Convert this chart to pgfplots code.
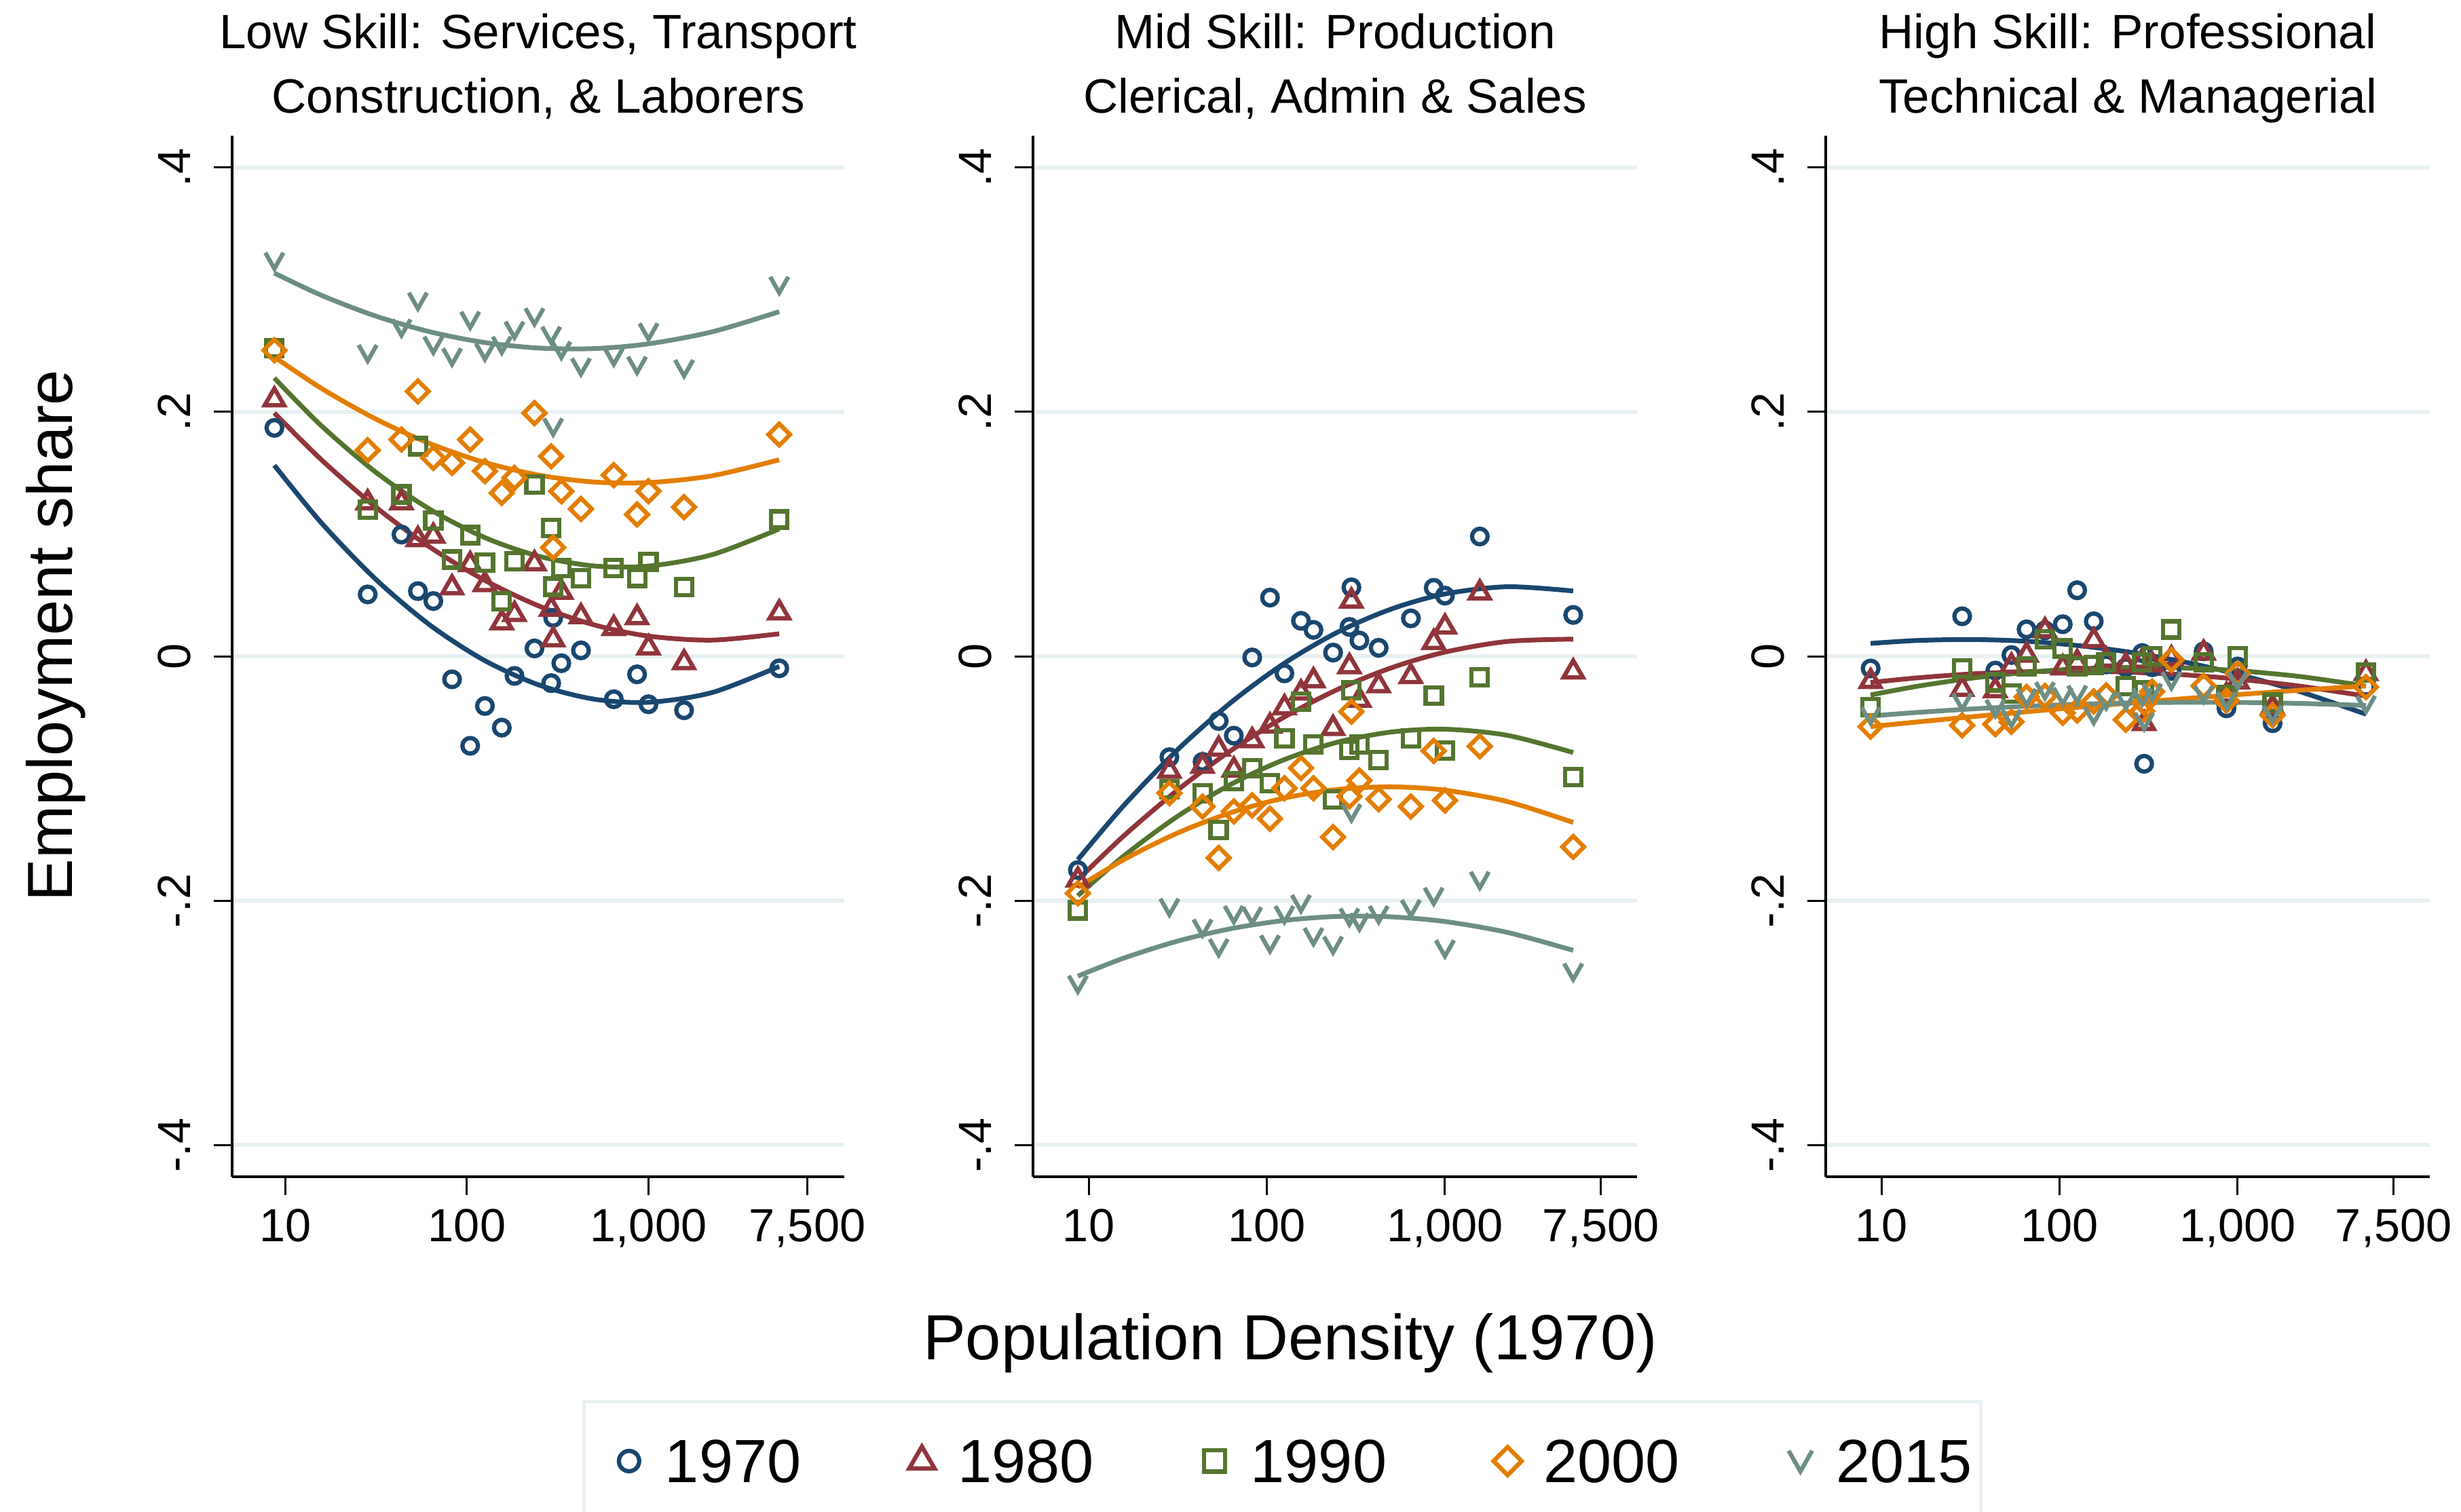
\documentclass[border=0pt]{standalone}
\usepackage{pgfplots}
\pgfplotsset{compat=1.18}
\usepackage{pgfplotstable}
\usepackage{fontspec}
\setmainfont{Liberation Sans}

\definecolor{cA}{RGB}{26,71,111}
\definecolor{cB}{RGB}{144,53,59}
\definecolor{cC}{RGB}{85,117,47}
\definecolor{cD}{RGB}{227,126,0}
\definecolor{cE}{RGB}{110,142,132}
\definecolor{gridc}{RGB}{232,240,242}

\pgfdeclareplotmark{vee}{%
  \pgfpathmoveto{\pgfqpoint{-1.13\pgfplotmarksize}{\pgfplotmarksize}}%
  \pgfpathlineto{\pgfqpoint{0pt}{-\pgfplotmarksize}}%
  \pgfpathlineto{\pgfqpoint{1.13\pgfplotmarksize}{\pgfplotmarksize}}%
  \pgfusepathqstroke}

% scatter data: x = population density (1970); c=1970 t=1980 s=1990 d=2000 v=2015
\pgfplotstableread{
x c t s d v
8.7 0.1869 0.210 0.2523 0.2504 0.3237
28.4 0.0506 0.1257 0.1201 0.1686 0.2482
43.6 0.0996 0.1257 0.1324 0.1774 0.2691
53.7 0.0533 0.0956 0.1719 0.2168 0.291
65.3 0.0452 0.0983 0.1111 0.1623 0.2550
82.8 -0.0189 0.0561 0.0792 0.1582 0.2454
104.2 -0.0733 0.0751 0.0991 0.1773 0.2754
125.6 -0.0407 0.0588 0.0765 0.1515 0.2495
155.6 -0.0584 0.0275 0.0452 0.1337 0.2550
182.8 -0.0161 0.0343 0.0779 0.1460 0.2673
235.5 0.0064 0.0758 0.1407 0.199 0.2782
291 -0.022 0.0386 0.105 0.1636 0.2631
298.5 0.0314 0.0136 0.057 0.089 0.188
331 -0.0057 0.0525 0.072 0.135 0.2509
424.6 0.0048 0.0325 0.0637 0.1205 0.2373
644 -0.0352 0.0228 0.0724 0.1482 0.2454
865 -0.0148 0.0316 0.0642 0.116 0.2386
1000 -0.0393 0.0070 0.0773 0.1351 0.2659
1570 -0.0442 -0.0052 0.0566 0.1220 0.2359
5250 -0.0099 0.0356 0.1119 0.1814 0.3040
}\pone
\pgfplotstableread{
x c t s d v
8.7 -0.175 -0.183 -0.208 -0.194 -0.268
28.4 -0.0826 -0.094 -0.109 -0.112 -0.205
43.6 -0.0864 -0.090 -0.112 -0.123 -0.222
53.7 -0.053 -0.076 -0.142 -0.165 -0.238
65.3 -0.065 -0.093 -0.102 -0.127 -0.211
82.8 -0.001 -0.069 -0.0915 -0.122 -0.212
104.2 0.048 -0.057 -0.104 -0.133 -0.235
125.6 -0.014 -0.042 -0.067 -0.108 -0.211
155.6 0.029 -0.030 -0.037 -0.0915 -0.202
182.8 0.0216 -0.020 -0.0724 -0.108 -0.229
235.5 0.0030 -0.059 -0.117 -0.148 -0.236
291 0.024 -0.0084 -0.0768 -0.1147 -0.213
298.5 0.0564 0.0453 -0.0278 -0.0453 -0.1277
331 0.0129 -0.036 -0.0722 -0.1017 -0.217
424.6 0.0069 -0.024 -0.085 -0.117 -0.211
644 0.031 -0.0165 -0.067 -0.123 -0.206
865 0.056 0.0114 -0.032 -0.0775 -0.196
1000 0.0496 0.024 -0.077 -0.118 -0.239
1570 0.098 0.052 -0.017 -0.0737 -0.183
5250 0.0338 -0.0127 -0.099 -0.156 -0.258
}\ptwo
\pgfplotstableread{
x c t s d v
8.7 -0.010 -0.0206 -0.0418 -0.0576 -0.0483
28.4 0.0327 -0.027 -0.0098 -0.0565 -0.037
43.6 -0.0117 -0.028 -0.0214 -0.0556 -0.0422
53.7 0.001 -0.008 -0.0306 -0.0537 -0.0505
65.3 0.022 0.001 -0.0084 -0.0333 -0.0333
82.8 0.0212 0.021 0.0138 -0.0324 -0.0278
104.2 0.0262 -0.0094 0.0064 -0.0463 -0.0324
125.6 0.054 -0.005 -0.0084 -0.0444 -0.0306
155.6 0.0286 0.0128 -0.0074 -0.037 -0.0481
182.8 -0.0067 -0.003 -0.0048 -0.032 -0.036
235.5 -0.0090 -0.0076 -0.0243 -0.052 -0.036
291 0.0026 -0.004 -0.005 -0.045 -0.033
298.5 -0.088 -0.055 -0.028 -0.038 -0.053
331 -0.009 -0.007 -0.0002 -0.029 -0.029
424.6 -0.012 -0.002 0.022 -0.003 -0.0196
644 0.004 0.0026 -0.0048 -0.0243 -0.0307
865 -0.0426 -0.032 -0.032 -0.0363 -0.036
1000 -0.0084 -0.021 0.000 -0.014 -0.0196
1570 -0.0548 -0.0418 -0.038 -0.0483 -0.047
5250 -0.025 -0.014 -0.0132 -0.0252 -0.039
}\pthree
% fitted curves
\pgfplotstableread{
x c t s d v
8.69 0.1563 0.1991 0.2277 0.2450 0.3136
15.85 0.1089 0.1606 0.1884 0.2191 0.2953
31.62 0.0627 0.1218 0.1504 0.1940 0.2783
63.10 0.0251 0.0889 0.1199 0.1738 0.2654
125.9 -0.0037 0.0620 0.0970 0.1585 0.2567
251.2 -0.0237 0.0409 0.0817 0.1481 0.2522
501.2 -0.0351 0.0257 0.0739 0.1426 0.2518
1000 -0.0377 0.0165 0.0738 0.1421 0.2557
2238.7 -0.0297 0.0132 0.0831 0.1477 0.2655
5248 -0.0083 0.0184 0.1042 0.1608 0.2820
}\fone
\pgfplotstableread{
x c t s d v
8.69 -0.1665 -0.1830 -0.1960 -0.1890 -0.2618
15.85 -0.1217 -0.1466 -0.1631 -0.1662 -0.2469
31.62 -0.0764 -0.1094 -0.1309 -0.1446 -0.2331
63.10 -0.0377 -0.0770 -0.1047 -0.1279 -0.2229
125.9 -0.0056 -0.0496 -0.0845 -0.1160 -0.2162
251.2 0.0199 -0.0270 -0.0702 -0.1090 -0.2129
501.2 0.0387 -0.0094 -0.0620 -0.1069 -0.2133
1000 0.0510 0.0034 -0.0597 -0.1096 -0.2171
2238.7 0.0569 0.0121 -0.0647 -0.1189 -0.2260
5248 0.0534 0.0140 -0.0788 -0.1360 -0.2407
}\ftwo
\pgfplotstableread{
x c t s d v
8.69 0.0105 -0.0215 -0.0317 -0.0576 -0.0489
15.85 0.0129 -0.0177 -0.0246 -0.0538 -0.0460
31.62 0.0137 -0.0145 -0.0181 -0.0496 -0.0432
63.10 0.0124 -0.0127 -0.0134 -0.0456 -0.0410
125.9 0.0088 -0.0122 -0.0103 -0.0418 -0.0393
251.2 0.0032 -0.0131 -0.0091 -0.0382 -0.0382
501.2 -0.0047 -0.0152 -0.0096 -0.0347 -0.0377
1000 -0.0147 -0.0187 -0.0118 -0.0314 -0.0378
2238.7 -0.0290 -0.0245 -0.0166 -0.0278 -0.0386
5248 -0.0474 -0.0326 -0.0243 -0.0243 -0.0403
}\fthree

\pgfplotsset{
  /pgfplots/myleg/.style={legend image code/.code={\path (-8pt,0pt) (8pt,0pt); \draw[##1, every mark/.append style={scale=1.3}] plot coordinates {(0pt,0pt)};}},
  /pgfplots/mysc/.style={only marks, /pgfplots/myleg, line width=1.25pt},
  /pgfplots/myfit/.style={no marks, smooth, line width=1.4pt, forget plot},
}

\newcommand{\drawpanel}[2]{%
  \addplot[mysc, cA, mark=o, mark size=2.3pt, mark options={solid, line width=1.25pt}] table[x=x,y=c]{#1};
  \addplot[mysc, cB, mark=triangle, mark size=3.3pt, mark options={solid, line width=1.25pt, line join=miter}] table[x=x,y=t]{#1};
  \addplot[mysc, cC, mark=square, mark size=2.4pt, mark options={solid, line width=1.25pt, line join=miter}] table[x=x,y=s]{#1};
  \addplot[mysc, cD, mark=square, mark size=2.25pt, mark options={solid, line width=1.25pt, line join=miter, rotate=45}] table[x=x,y=d]{#1};
  \addplot[mysc, cE, mark=vee, mark size=2.35pt, mark options={solid, line width=1.25pt, line join=miter}] table[x=x,y=v]{#1};
  \addplot[myfit, cA] table[x=x,y=c]{#2};
  \addplot[myfit, cB] table[x=x,y=t]{#2};
  \addplot[myfit, cC] table[x=x,y=s]{#2};
  \addplot[myfit, cD] table[x=x,y=d]{#2};
  \addplot[myfit, cE] table[x=x,y=v]{#2};
}

\begin{document}
\begin{tikzpicture}
\useasboundingbox (0,0) rectangle (725.2pt,445.4pt);

\begin{axis}[scale only axis, height=306.8pt,
    xmode=log, xmax=11980, ymin=-0.426, ymax=0.426,
    axis x line*=bottom, axis y line*=left,
    axis line style={black, line width=0.66pt},
    xtick={10,100,1000,7500}, xticklabels={10,100,{1,000},{7,500}},
    xminorticks=false, yminorticks=false,
    ytick={-0.4,-0.2,0,0.2,0.4}, yticklabels={-.4,-.2,0,.2,.4},
    tick align=outside, major tick length=5.4pt,
    major tick style={black, line width=0.6pt},
    ymajorgrids, major grid style={gridc, line width=1.1pt},
    tick label style={font=\fontsize{13.7}{16}\selectfont},
    yticklabel style={xshift=-7pt, rotate=90, anchor=base},
    xticklabel style={anchor=base, yshift=-13.6pt},
    clip=false,
    name=p1, at={(68.4pt,98.6pt)}, anchor=south west, width=180.4pt, xmin=5.09]
\drawpanel{\pone}{\fone}
\end{axis}

\begin{axis}[scale only axis, height=306.8pt,
    xmode=log, xmax=11980, ymin=-0.426, ymax=0.426,
    axis x line*=bottom, axis y line*=left,
    axis line style={black, line width=0.66pt},
    xtick={10,100,1000,7500}, xticklabels={10,100,{1,000},{7,500}},
    xminorticks=false, yminorticks=false,
    ytick={-0.4,-0.2,0,0.2,0.4}, yticklabels={-.4,-.2,0,.2,.4},
    tick align=outside, major tick length=5.4pt,
    major tick style={black, line width=0.6pt},
    ymajorgrids, major grid style={gridc, line width=1.1pt},
    tick label style={font=\fontsize{13.7}{16}\selectfont},
    yticklabel style={xshift=-7pt, rotate=90, anchor=base},
    xticklabel style={anchor=base, yshift=-13.6pt},
    clip=false,
    name=p2, at={(304.4pt,98.6pt)}, anchor=south west, width=178pt, xmin=4.87,
  legend entries={1970,1980,1990,2000,2015},
  legend columns=5,
  legend style={at={(-0.7183,-0.2731)}, anchor=west, draw=none, fill=none, inner sep=0pt,
    font=\fontsize{18}{21}\selectfont, nodes={inner sep=2pt, text depth=0pt},
    /tikz/every even column/.append style={column sep=25pt}}]
\drawpanel{\ptwo}{\ftwo}
\end{axis}

\begin{axis}[scale only axis, height=306.8pt,
    xmode=log, xmax=11980, ymin=-0.426, ymax=0.426,
    axis x line*=bottom, axis y line*=left,
    axis line style={black, line width=0.66pt},
    xtick={10,100,1000,7500}, xticklabels={10,100,{1,000},{7,500}},
    xminorticks=false, yminorticks=false,
    ytick={-0.4,-0.2,0,0.2,0.4}, yticklabels={-.4,-.2,0,.2,.4},
    tick align=outside, major tick length=5.4pt,
    major tick style={black, line width=0.6pt},
    ymajorgrids, major grid style={gridc, line width=1.1pt},
    tick label style={font=\fontsize{13.7}{16}\selectfont},
    yticklabel style={xshift=-7pt, rotate=90, anchor=base},
    xticklabel style={anchor=base, yshift=-13.6pt},
    clip=false,
    name=p3, at={(538pt,98.6pt)}, anchor=south west, width=178pt, xmin=4.87]
\drawpanel{\pthree}{\fthree}
\end{axis}

\begin{scope}[every node/.style={anchor=base, font=\fontsize{14.2}{17}\selectfont, inner sep=0pt}]
\node at (158.6pt,431pt) {Low Skill: Services, Transport};
\node at (158.6pt,412pt) {Construction, \& Laborers};
\node at (393.4pt,431pt) {Mid Skill: Production};
\node at (393.4pt,412pt) {Clerical, Admin \& Sales};
\node at (627pt,431pt) {High Skill: Professional};
\node at (627pt,412pt) {Technical \& Managerial};
\end{scope}

\node[anchor=base, inner sep=0pt, font=\fontsize{18.8}{22}\selectfont] at (380.2pt,44.8pt) {Population Density (1970)};
\node[rotate=90, anchor=base, inner sep=0pt, font=\fontsize{18.8}{22}\selectfont] at (21.2pt,258.1pt) {Employment share};

\draw[gridc, line width=1pt] (172pt,-5pt) rectangle (583.6pt,32.4pt);
\end{tikzpicture}
\end{document}
